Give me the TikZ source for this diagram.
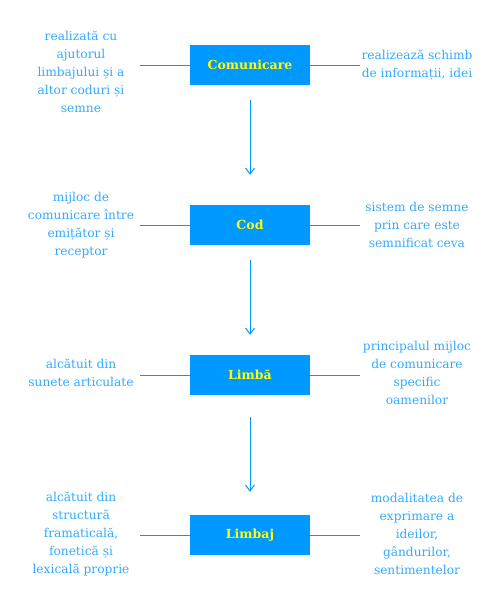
\documentclass[tikz,border=0pt]{standalone}
\usepackage{fontspec}
\setmainfont{DejaVu Serif}
\usetikzlibrary{arrows.meta, positioning}
\definecolor{boxblue}{HTML}{0099FF}
\definecolor{noteblue}{HTML}{33AAFF}
\definecolor{titleyellow}{HTML}{FFFF00}

\begin{document}
\begin{tikzpicture}[x=1pt, y=-1pt]
  \useasboundingbox (0,0) rectangle (500,600);
  \begin{scope}[every node/.style = {fill=boxblue, minimum width=120pt, minimum height=40pt, inner sep=0pt, text=titleyellow, font=\bfseries\fontsize{12.5}{14}\selectfont}]
    \node (com) at (250,65) {Comunicare};
    \node (cod) at (250,225) {Cod};
    \node (lba) at (250,375) {Limbă};
    \node (lbj) at (250,535) {Limbaj};
  \end{scope}

  \begin{scope}[every node/.style = {align=center, text=noteblue, inner sep=0pt, font=\fontsize{12.2}{18}\selectfont}]
    \node (com-l) at (81,72) {realizată cu\\ajutorul\\limbajului și a\\altor coduri și\\semne};
    \node (com-r) at (417,65) {realizează schimb\\de informații, idei};
    \node (cod-l) at (81,225) {mijloc de\\comunicare între\\emițător și\\receptor};
    \node (cod-r) at (417,225) {sistem de semne\\prin care este\\semnificat ceva};
    \node (lba-l) at (81,373) {alcătuit din\\sunete articulate};
    \node (lba-r) at (417,373) {principalul mijloc\\de comunicare\\specific\\oamenilor};
    \node (lbj-l) at (81,534) {alcătuit din\\structură\\framaticală,\\fonetică și\\lexicală proprie};
    \node (lbj-r) at (417,534) {modalitatea de\\exprimare a\\ideilor,\\gândurilor,\\sentimentelor};
  \end{scope}

  % capetele liniilor laterale
  \coordinate[left=50pt of com.west] (com-lc);
  \coordinate[right=50pt of com.east] (com-rc);
  \coordinate[left=50pt of cod.west] (cod-lc);
  \coordinate[right=50pt of cod.east] (cod-rc);
  \coordinate[left=50pt of lba.west] (lba-lc);
  \coordinate[right=50pt of lba.east] (lba-rc);
  \coordinate[left=50pt of lbj.west] (lbj-lc);
  \coordinate[right=50pt of lbj.east] (lbj-rc);

  \begin{scope}[every edge/.style={draw=boxblue, line width=1pt}]
    \path (com.west) edge (com-lc);
    \path (com.east) edge (com-rc);
    \path (cod.west) edge (cod-lc);
    \path (cod.east) edge (cod-rc);
    \path (lba.west) edge (lba-lc);
    \path (lba.east) edge (lba-rc);
    \path (lbj.west) edge (lbj-lc);
    \path (lbj.east) edge (lbj-rc);
  \end{scope}

  \begin{scope}[every edge/.style={draw=boxblue, line width=1pt, -{Straight Barb[length=6pt, width=9pt]}}]
    \path (com) edge[shorten <=15pt, shorten >=30pt] (cod);
    \path (cod) edge[shorten <=15pt, shorten >=20pt] (lba);
    \path (lba) edge[shorten <=22pt, shorten >=23pt] (lbj);
  \end{scope}
\end{tikzpicture}
\end{document}
